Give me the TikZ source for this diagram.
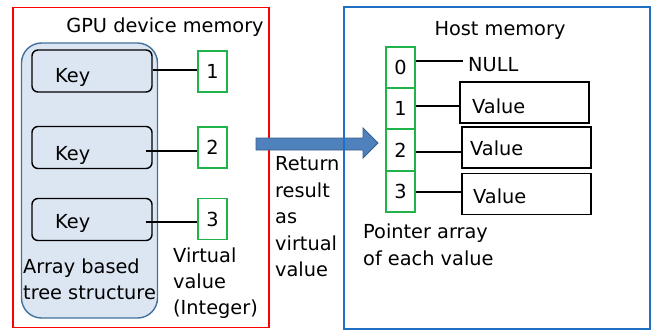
\documentclass[tikz,border=0pt]{standalone}
\usepackage{fontspec}
\setmainfont{DejaVu Sans}
\begin{document}
\begin{tikzpicture}[x=1bp,y=-1bp,
  txt/.style={inner sep=0pt, font=\fontsize{19.4}{26}\selectfont, align=left},
  keybox/.style={draw=black, line width=1.4bp, rounded corners=6bp, fill=treefill, minimum width=120bp, minimum height=42bp, inner sep=0pt},
  gbox/.style={draw=vgreen, line width=1.6bp, minimum width=29bp, minimum height=41bp, inner sep=0pt, font=\fontsize{19.4}{22}\selectfont},
  valbox/.style={draw=black, line width=1.4bp, minimum width=129bp, minimum height=41bp, inner sep=0pt},
  conn/.style={draw=black, line width=2.2bp}]
\definecolor{treefill}{HTML}{DCE6F2}
\definecolor{treeborder}{HTML}{41719C}
\definecolor{vgreen}{HTML}{1FB34A}
\definecolor{hostblue}{HTML}{1F6FC5}
\definecolor{arrowfill}{HTML}{4F81BD}
\definecolor{arrowborder}{HTML}{385D8A}
\useasboundingbox (0,0) rectangle (652,331);
% GPU region
\node[draw=red, line width=1.6bp, minimum width=256bp, minimum height=320bp, inner sep=0pt] (gpu) at (141,167.5) {};
\node[txt, anchor=base] (gputitle) at (165,32) {GPU device memory};
\node[draw=treeborder, line width=1.4bp, fill=treefill, rounded corners=20bp, minimum width=136bp, minimum height=275bp, inner sep=0pt] (tree) at (89.5,180.5) {};
\node[keybox] (k1) at (92,71) {};
\node[keybox] (k2) at (92,147.5) {};
\node[keybox] (k3) at (92,219.5) {};
\node[txt, anchor=base west] (k1t) at (55,82) {Key};
\node[txt, anchor=base west] (k2t) at (55,160) {Key};
\node[txt, anchor=base west] (k3t) at (55,228) {Key};
\node[gbox] (g1) at (212.5,71.5) {1};
\node[gbox] (g2) at (212.5,147.5) {2};
\node[gbox] (g3) at (212.5,219) {3};
\draw[conn] (k1.east |- 0,70) -- (g1.west |- 0,70);
\draw[conn] ([xshift=-7bp]k2.east |- 0,151) -- (g2.west |- 0,151);
\draw[conn] ([xshift=-7bp]k3.east |- 0,222) -- (g3.west |- 0,222);
\node[txt, anchor=base west] (treet1) at (23,273) {Array based};
\node[txt, anchor=base west] (treet2) at (23,299) {tree structure};
\node[txt, anchor=base west] (virt1) at (173,262) {Virtual};
\node[txt, anchor=base west] (virt2) at (173,288) {value};
\node[txt, anchor=base west] (virt3) at (173,314) {(Integer)};
% arrow
\draw[fill=arrowfill, draw=arrowborder, line width=0.8bp] (256,138) -- (363,138) -- (363,128) -- (378,143) -- (363,158) -- (363,150) -- (256,150) -- cycle;
\node[txt, anchor=base west] (ret1) at (275,170) {Return};
\node[txt, anchor=base west] (ret2) at (275,197) {result};
\node[txt, anchor=base west] (ret3) at (275,223) {as};
\node[txt, anchor=base west] (ret4) at (275,250) {virtual};
\node[txt, anchor=base west] (ret5) at (275,276) {value};
% Host region
\node[draw=hostblue, line width=1.6bp, minimum width=306bp, minimum height=322bp, inner sep=0pt] (host) at (497,168) {};
\node[txt, anchor=base] (hosttitle) at (500,35) {Host memory};
\node[gbox] (p0) at (400.5,67.5) {0};
\node[gbox] (p1) at (400.5,108.5) {1};
\node[gbox] (p2) at (400.5,150) {2};
\node[gbox] (p3) at (400.5,191.5) {3};
\node[txt, anchor=base west] (null) at (468,71) {NULL};
\node[valbox] (v1) at (524.5,102.5) {};
\node[valbox] (v2) at (526.5,147.5) {};
\node[valbox] (v3) at (526.5,194) {};
\node[txt, anchor=base west] (v1t) at (472,113) {Value};
\node[txt, anchor=base west] (v2t) at (470,155) {Value};
\node[txt, anchor=base west] (v3t) at (473,203) {Value};
\draw[conn] (p0.east |- 0,61) -- ([xshift=-5bp]null.west |- 0,61);
\draw[conn] (p1.east |- 0,106) -- (v1.west |- 0,106);
\draw[conn] (p2.east |- 0,152) -- (v2.west |- 0,152);
\draw[conn] (p3.east |- 0,192) -- (v3.west |- 0,192);
\node[txt, anchor=base west] (ptr1) at (363,238) {Pointer array};
\node[txt, anchor=base west] (ptr2) at (363,265) {of each value};
\end{tikzpicture}
\end{document}
